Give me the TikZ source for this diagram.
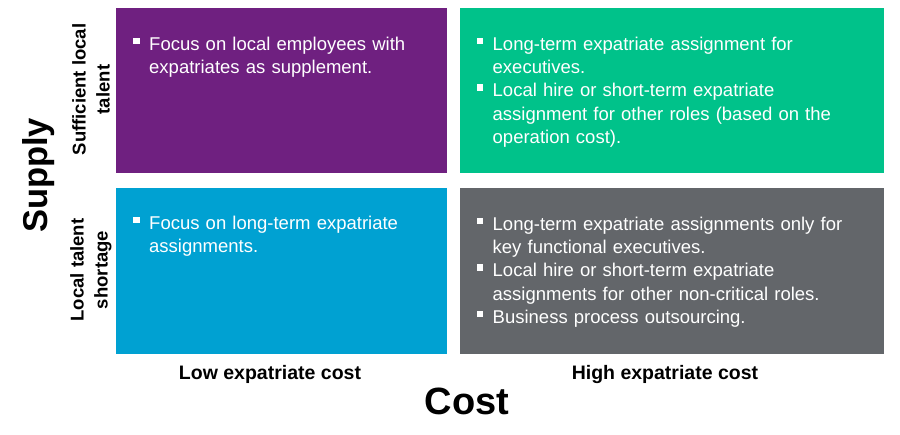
\documentclass[tikz,border=0pt]{standalone}
\usepackage{fontspec}
\setmainfont{Liberation Sans}
\definecolor{purp}{HTML}{6F2080}
\definecolor{grn}{HTML}{00C28A}
\definecolor{blu}{HTML}{00A1D2}
\definecolor{gry}{HTML}{63666A}
\newcommand{\sqbul}{\makebox[16pt][l]{\rule[6pt]{6.5pt}{6.5pt}}}
\newcommand{\fstrut}{\rule{0pt}{17pt}}
\newcommand{\bitem}[1]{\hangindent=16pt\hangafter=1\noindent\fstrut\sqbul#1\par}
\begin{document}
\begin{tikzpicture}[x=1pt,y=-1pt,
  quad/.style={anchor=north west, inner sep=0pt, outer sep=0pt, draw=none},
  btxt/.style={anchor=north west, inner sep=0pt, text width=390pt, align=left, text=white,
    font=\fontsize{18.5}{23.3}\selectfont},
  rowlab/.style={rotate=90, align=center, inner sep=0pt, font=\bfseries\fontsize{18.5}{24}\selectfont},
  collab/.style={anchor=base, inner sep=0pt, font=\bfseries\fontsize{19.5}{23}\selectfont},
  axlab/.style={anchor=base, inner sep=0pt, font=\bfseries\fontsize{38}{40}\selectfont}]
\useasboundingbox (0,0) rectangle (900,435);
% quadrants
\node[quad, fill=purp, minimum width=331pt, minimum height=165pt] (q1) at (116,8) {};
\node[quad, fill=grn, minimum width=424pt, minimum height=165pt] (q2) at (460,8) {};
\node[quad, fill=blu, minimum width=331pt, minimum height=166pt] (q3) at (116,188) {};
\node[quad, fill=gry, minimum width=424pt, minimum height=166pt] (q4) at (460,188) {};
% texts
\node[btxt] (t1) at (133,33) {\bitem{Focus on local employees with\newline expatriates as supplement.}};
\node[btxt] (t2) at (476.5,33) {\bitem{Long-term expatriate assignment for\newline executives.}\bitem{Local hire or short-term expatriate\newline assignment for other roles (based on the\newline operation cost).}};
\node[btxt] (t3) at (133,212) {\bitem{Focus on long-term expatriate\newline assignments.}};
\node[btxt] (t4) at (476.5,213) {\bitem{Long-term expatriate assignments only for\newline key functional executives.}\bitem{Local hire or short-term expatriate\newline assignments for other non-critical roles.}\bitem{Business process outsourcing.}};
% row labels
\node[rowlab] (r1) at (91,89.5) {Sufficient local\\talent};
\node[rowlab] (r2) at (91,270) {Local talent\\shortage};
% column labels
\node[collab] (c1) at (270,380) {Low expatriate cost};
\node[collab] (c2) at (665,380) {High expatriate cost};
% axis labels
\node[axlab] (cost) at (467,415) {Cost};
\node[axlab, rotate=90, font=\bfseries\fontsize{34.5}{36}\selectfont] (supply) at (47,175.5) {Supply};
\end{tikzpicture}
\end{document}
